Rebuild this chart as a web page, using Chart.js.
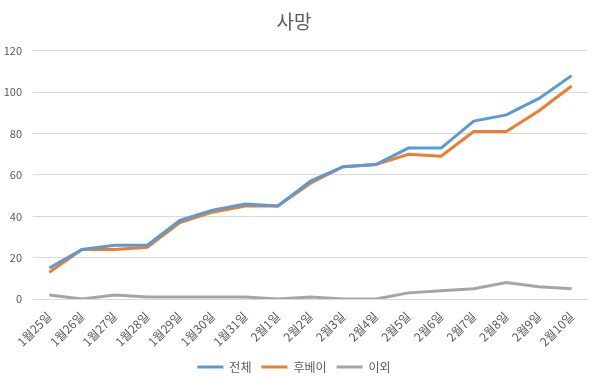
<!DOCTYPE html>
<html>
<head>
<meta charset="utf-8">
<script src="https://cdn.jsdelivr.net/npm/chart.js@4"></script>
<style>
    html, body { margin: 0; padding: 0; background: #fff; }
    #wrap { width: 600px; height: 385px; }
</style>
</head>
<body>
<div id="wrap"><canvas id="chart"></canvas></div>
<script>
var labels = ['1월25일', '1월26일', '1월27일', '1월28일', '1월29일', '1월30일', '1월31일', '2월1일', '2월2일',
    '2월3일', '2월4일', '2월5일', '2월6일', '2월7일', '2월8일', '2월9일', '2월10일'];
var totalDeaths = [15, 24, 26, 26, 38, 43, 46, 45, 57, 64, 65, 73, 73, 86, 89, 97, 108];
var hubeiDeaths = [13, 24, 24, 25, 37, 42, 45, 45, 56, 64, 65, 70, 69, 81, 81, 91, 103];
var otherDeaths = [2, 0, 2, 1, 1, 1, 1, 0, 1, 0, 0, 3, 4, 5, 8, 6, 5];

var font = '"Noto Sans CJK KR", "Noto Sans", sans-serif';
var textColor = '#595959';

function series(label, data, color) {
    return {
        label: label,
        data: data,
        borderColor: color,
        backgroundColor: color,
        borderWidth: 3,
        pointRadius: 0,
        tension: 0,
        fill: false
    };
}

new Chart(document.getElementById('chart'), {
    type: 'line',
    data: {
        labels: labels,
        datasets: [
            series('전체', totalDeaths, '#5B9BD5'),
            series('후베이', hubeiDeaths, '#ED7D31'),
            series('이외', otherDeaths, '#A5A5A5')
        ]
    },
    options: {
        responsive: true,
        maintainAspectRatio: false,
        animation: false,
        layout: { padding: { left: 0, right: 12, top: 8, bottom: 2 } },
        plugins: {
            title: {
                display: true,
                text: '사망',
                color: textColor,
                font: { family: font, size: 19, weight: 'normal' },
                padding: { top: 2, bottom: 18 }
            },
            legend: {
                position: 'bottom',
                labels: {
                    usePointStyle: true,
                    pointStyle: 'line',
                    pointStyleWidth: 26,
                    boxWidth: 26,
                    color: textColor,
                    font: { family: font, size: 12 },
                    padding: 10
                }
            },
            tooltip: { enabled: false }
        },
        scales: {
            x: {
                offset: true,
                grid: { display: false },
                border: { display: false },
                ticks: {
                    color: textColor,
                    font: { family: font, size: 12 },
                    minRotation: 45,
                    maxRotation: 45,
                    autoSkip: false,
                    padding: 2
                },
                afterFit: function (scale) {
                    scale.paddingLeft = 0;
                    scale.paddingRight = 0;
                }
            },
            y: {
                min: 0,
                max: 120,
                grid: { color: '#D9D9D9', drawTicks: false },
                border: { display: false },
                ticks: {
                    stepSize: 20,
                    color: textColor,
                    font: { family: font, size: 11 },
                    padding: 11
                },
                afterFit: function (scale) {
                    scale.width = 33;
                }
            }
        }
    }
});
</script>
</body>
</html>
